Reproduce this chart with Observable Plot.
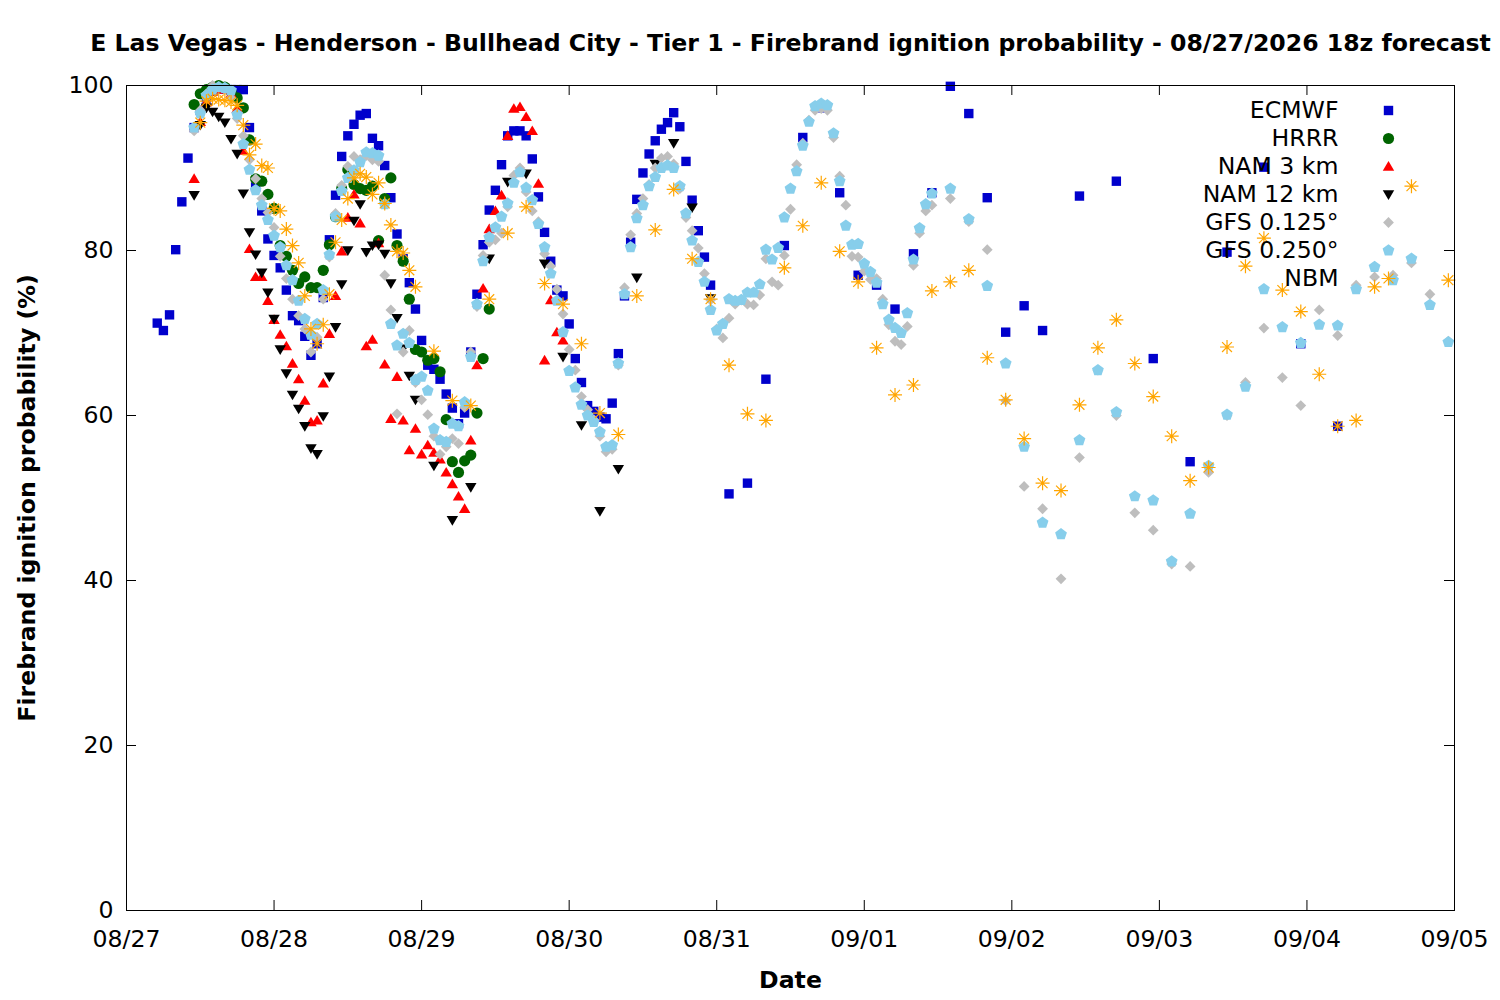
<!DOCTYPE html>
<html><head><meta charset="utf-8">
<script src="https://cdn.jsdelivr.net/npm/d3@7"></script>
<script src="https://cdn.jsdelivr.net/npm/@observablehq/plot@0.6"></script>
<style>html,body{margin:0;padding:0;background:#fff;} svg{display:block;}</style>
</head><body><div id="chart"></div>
<script>
const chartTitle = "E Las Vegas - Henderson - Bullhead City - Tier 1 - Firebrand ignition probability - 08/27/2026 18z forecast";
const xLabel = "Date";
const yLabel = "Firebrand ignition probability (%)";
const xTickLabels = ["08/27","08/28","08/29","08/30","08/31","09/01","09/02","09/03","09/04","09/05"];
const yTicks = [0, 20, 40, 60, 80, 100];
const seriesNames = ["ECMWF","HRRR","NAM 3 km","NAM 12 km","GFS 0.125°","GFS 0.250°","NBM"];

// time grid helper: forecast hours counted from 08/27 00:00
const grid = (start, stop, step) => d3.range(start, stop + 0.001, step);

const ecmwfHours = [...grid(5,95,1), ...grid(98,149,3), ...grid(155,197,6)];
const ecmwfValues = [
 71.2,70.3,72.2,80.1,85.9,91.2,94.9,97.0,98.5,99.3,
 99.6,99.6,99.5,99.5,99.5,94.9,87.7,84.8,81.4,79.4,
 77.9,75.2,72.1,71.5,69.6,67.3,68.7,74.3,81.3,86.7,
 91.4,93.9,95.3,96.4,96.6,93.6,92.7,90.3,86.4,82.0,
 79.0,76.1,72.9,69.1,66.1,65.6,64.4,62.6,60.9,59.0,
 60.3,67.7,74.7,80.7,84.9,87.3,90.4,93.9,94.5,94.5,
 93.9,91.1,86.5,82.2,78.7,75.2,74.5,71.1,66.9,64.0,
 61.2,60.5,59.8,59.6,61.5,67.5,74.5,81.0,86.2,89.4,
 91.7,93.3,94.7,95.5,96.7,95.0,90.8,86.1,82.4,79.2,
 75.8,
 50.5,51.8,64.4,80.6,93.7,97.3,87.0,77.0,75.8,72.9,79.6,87.0,99.9,96.6,86.4,70.1,73.3,70.3,
 86.6,88.4,66.9,54.4,79.8,90.1,68.7,58.7
];

const hrrrHours = grid(11,59,1);
const hrrrValues = [
 97.7,99.0,99.5,99.8,100,99.8,99.3,98.5,97.3,93.4,
 88.7,88.4,86.8,85.1,80.6,79.3,77.6,76.0,76.8,75.5,
 75.5,77.6,80.7,84.1,87.5,89.8,88.0,87.5,87.3,87.8,
 81.2,86.3,88.8,80.6,78.7,74.1,68.0,67.7,66.7,66.9,
 65.3,59.5,54.4,53.1,54.5,55.2,60.3,66.9,72.9
];

const nam3Hours = grid(11,71,1);
const nam3Values = [
 88.7,95.6,98.0,99.3,99.6,99.5,99.0,97.2,92.1,80.2,
 76.8,76.8,73.9,71.6,69.8,68.4,66.3,64.4,61.8,59.2,
 59.4,63.9,69.9,74.5,79.9,84.0,86.8,83.3,68.4,69.2,
 80.9,66.2,59.6,64.7,59.4,55.8,58.4,55.3,56.4,55.5,
 54.7,53.1,51.7,50.2,48.7,57.0,66.1,75.4,82.6,84.8,
 86.7,93.9,97.2,97.4,96.2,94.5,88.1,66.7,74.0,70.1,
 69.1
];

const nam12Hours = [...grid(11,47,1), ...grid(50,95,3)];
const nam12Values = [
 86.7,95.2,97.3,96.8,96.2,95.5,93.5,91.7,86.9,82.2,
 79.5,77.3,74.9,71.7,68.0,65.1,62.5,60.8,58.7,56.0,
 55.3,59.9,64.7,70.7,75.9,80.0,83.6,85.6,79.8,80.6,
 80.7,79.6,76.0,71.8,68.1,64.8,61.9,
 53.9,47.3,51.3,79.0,88.3,89.3,78.4,67.1,58.8,48.4,53.5,76.7,90.5,93.0,85.2,74.2
];

const gfsHours = [...grid(11,131,1), ...grid(134,215,3)];
const gfs0125Values = [
 94.5,97.0,99.0,100,99.8,99.5,98.5,96.0,93.9,91.0,
 88.7,86.3,84.6,82.8,79.3,76.6,74.1,72.1,70.5,67.7,
 69.5,74.1,79.2,84.5,87.9,90.2,91.4,91.0,91.5,91.0,
 90.8,77.0,72.8,60.2,67.7,70.3,64.0,61.9,60.1,57.5,
 55.3,56.2,57.2,56.6,61.0,67.7,73.2,79.4,81.0,81.3,
 82.1,85.3,89.1,90.0,87.1,84.8,83.5,79.6,78.1,75.3,
 72.3,68.0,65.5,62.3,60.7,59.5,57.5,55.6,55.9,66.1,
 75.5,81.9,84.5,86.3,88.0,90.0,91.2,91.4,90.5,87.5,
 84.0,82.4,80.3,77.2,74.0,70.5,69.4,71.8,73.5,74.0,
 73.5,73.4,74.6,79.0,76.2,75.8,79.4,85.0,90.4,93.0,
 95.8,97.0,97.2,97.0,93.7,89.0,85.5,79.3,79.2,77.5,
 76.5,76.6,74.1,71.0,69.0,68.6,70.8,78.2,82.1,84.8,
 85.5,
 86.3,83.5,80.1,61.8,51.4,48.7,40.2,54.9,65.5,60.0,48.2,46.1,42.0,41.7,
 53.1,60.0,64.0,70.6,64.6,61.2,72.8,69.7,75.8,76.8,77.0,78.5,74.7,69.0
];
const gfs0250Values = [
 94.9,96.6,98.8,99.5,99.8,99.7,99.4,96.5,92.9,89.8,
 87.3,85.5,83.7,81.8,80.4,78.2,76.4,73.9,71.7,69.8,
 71.1,75.2,79.5,84.1,87.2,88.8,89.7,90.7,91.9,91.8,
 91.5,85.6,71.1,68.5,69.9,68.8,64.3,64.7,63.0,58.4,
 57.0,56.8,59.0,58.7,61.6,67.1,73.5,78.7,81.6,82.8,
 84.1,85.7,88.2,89.5,87.6,86.1,83.2,80.4,77.2,73.9,
 70.1,65.4,63.4,61.3,60.0,59.2,58.0,56.2,56.4,66.3,
 74.7,80.4,83.9,85.5,87.8,88.9,90.0,90.3,90.0,87.8,
 84.5,81.2,78.6,76.2,72.8,70.3,71.1,74.1,73.9,74.0,
 74.9,74.9,75.9,80.1,78.9,80.3,84.0,87.5,89.6,92.7,
 95.6,97.5,97.8,97.6,94.2,88.4,83.0,80.7,80.8,78.4,
 77.4,76.1,73.5,71.6,70.6,70.0,72.4,78.9,82.7,85.6,
 86.9,
 87.5,83.8,75.7,66.3,56.2,47.0,45.6,57.0,65.5,60.4,50.2,49.7,42.3,48.1,
 53.9,60.1,63.5,75.3,70.7,68.8,71.0,70.9,75.3,78.0,76.4,79.0,73.4,68.9
];

const nbmHours = [...grid(12,47,1), ...grid(50,215,3)];
const nbmValues = [
 95.5,98.1,98.4,98.3,98.2,98.0,97.6,95.2,91.6,92.9,
 90.3,90.0,85.1,84.8,82.6,80.6,78.5,74.5,70.5,68.7,
 71.0,74.7,81.0,83.7,86.3,88.8,89.3,88.9,86.8,88.2,
 85.7,83.1,79.9,79.7,77.6,75.6,
 67.8,61.8,61.2,74.1,82.1,85.3,76.0,73.5,68.7,60.3,
 57.7,74.5,82.5,87.4,79.0,74.1,66.1,60.2,59.4,77.9,
 83.0,88.2,79.9,76.2,68.2,62.5,63.7,75.1,76.2,77.6,
 67.0,61.9,57.2,51.8,50.9,61.3,68.2,71.6,66.3,62.3,
 57.5,52.1,53.7,68.3,78.1,81.5,75.2,72.6,65.0,58.7,
 59.4,75.6,null,87.8,null,76.4
];

// ---- marker shapes (r = half size) ----
const R = s => Math.sqrt(s / Math.PI);
const shapes = {
  square: {draw(c, s) { const r = R(s); c.rect(-r, -r, 2 * r, 2 * r); }},
  circle: {draw(c, s) { const r = R(s); c.moveTo(r, 0); c.arc(0, 0, r, 0, 2 * Math.PI); }},
  triUp: {draw(c, s) { const r = R(s); c.moveTo(0, -r * 1.05); c.lineTo(r * 1.1, r * 0.8); c.lineTo(-r * 1.1, r * 0.8); c.closePath(); }},
  triDown: {draw(c, s) { const r = R(s); c.moveTo(0, r * 1.05); c.lineTo(r * 1.1, -r * 0.8); c.lineTo(-r * 1.1, -r * 0.8); c.closePath(); }},
  diamond: {draw(c, s) { const r = R(s); c.moveTo(0, -r); c.lineTo(r, 0); c.lineTo(0, r); c.lineTo(-r, 0); c.closePath(); }},
  pentagon: {draw(c, s) { const r = R(s); for (let k = 0; k < 5; k++) { const a = -Math.PI / 2 + k * 2 * Math.PI / 5; const px = r * Math.cos(a), py = r * Math.sin(a); k ? c.lineTo(px, py) : c.moveTo(px, py); } c.closePath(); }},
  asterisk: {draw(c, s) { const r = R(s), d = r * Math.SQRT1_2; c.moveTo(-r, 0); c.lineTo(r, 0); c.moveTo(0, -r); c.lineTo(0, r); c.moveTo(-d, -d); c.lineTo(d, d); c.moveTo(-d, d); c.lineTo(d, -d); }}
};

const series = [
  {hours: ecmwfHours, values: ecmwfValues, symbol: shapes.square, r: 4.7, fill: "#0000cc"},
  {hours: hrrrHours, values: hrrrValues, symbol: shapes.circle, r: 5.6, fill: "#006400"},
  {hours: nam3Hours, values: nam3Values, symbol: shapes.triUp, r: 5.2, fill: "#ff0000"},
  {hours: nam12Hours, values: nam12Values, symbol: shapes.triDown, r: 5.2, fill: "#000000"},
  {hours: gfsHours, values: gfs0125Values, symbol: shapes.diamond, r: 5.4, fill: "#bebebe"},
  {hours: gfsHours, values: gfs0250Values, symbol: shapes.pentagon, r: 6.2, fill: "#87ceeb"},
  {hours: nbmHours, values: nbmValues, symbol: shapes.asterisk, r: 7.0, stroke: "#ffa500"}
].map((s, i) => ({...s, name: seriesNames[i]}));

const BASE = Date.UTC(2026, 7, 27);
const toDate = h => new Date(BASE + h * 3600e3);
const parseTick = d3.utcParse("%Y/%m/%d");
const xTicks = xTickLabels.map(l => parseTick("2026/" + l));

const W = 1500, H = 1000, ML = 126, MR = 46, MT = 85, MB = 90;
const plotW = W - ML - MR, plotH = H - MT - MB, tickLen = 10;
const FONT = 23.6;

function rows(s) {
  const n = Math.min(s.hours.length, s.values.length);
  const out = [];
  for (let i = 0; i < n; i++) if (s.values[i] != null) out.push({date: toDate(s.hours[i]), value: s.values[i]});
  return out;
}

const dotMarks = series.map(s => Plot.dot(rows(s), {
  x: "date", y: "value", symbol: s.symbol, r: s.r,
  fill: s.fill ? s.fill : "none", stroke: s.stroke ? s.stroke : "none", strokeWidth: 1.2
}));

const legendMarks = [];
series.forEach((s, i) => {
  legendMarks.push(Plot.text([s.name], {text: d => d, frameAnchor: "top-right", dx: -116, dy: 25 + i * 28,
    textAnchor: "end", lineAnchor: "middle", fontSize: FONT, fill: "black"}));
  legendMarks.push(Plot.dot([s.name], {frameAnchor: "top-right", dx: -66, dy: 25 + i * 28,
    symbol: s.symbol, r: s.r, fill: s.fill ? s.fill : "none", stroke: s.stroke ? s.stroke : "none", strokeWidth: 1.2}));
});

const chart = Plot.plot({
  width: W, height: H,
  marginLeft: ML, marginRight: MR, marginTop: MT, marginBottom: MB,
  style: {fontFamily: "DejaVu Sans", fontSize: FONT + "px", background: "white", overflow: "visible"},
  x: {type: "utc", domain: [xTicks[0], xTicks[xTicks.length - 1]]},
  y: {domain: [0, 100]},
  marks: [
    Plot.axisX({ticks: xTicks, tickFormat: d3.utcFormat("%m/%d"), tickSize: 0, tickPadding: 20, fontSize: FONT, label: null}),
    Plot.axisY({ticks: yTicks, tickSize: 0, tickPadding: 13, fontSize: FONT, label: null}),
    Plot.tickX(xTicks, {x: d => d, insetTop: plotH - tickLen, stroke: "black"}),
    Plot.tickX(xTicks, {x: d => d, insetBottom: plotH - tickLen, stroke: "black"}),
    Plot.tickY(yTicks, {y: d => d, insetRight: plotW - tickLen, stroke: "black"}),
    Plot.tickY(yTicks, {y: d => d, insetLeft: plotW - tickLen, stroke: "black"}),
    ...dotMarks,
    Plot.frame({stroke: "black", strokeWidth: 1}),
    ...legendMarks,
    Plot.text([chartTitle], {text: d => d, frameAnchor: "top", dy: -42, textAnchor: "middle", lineAnchor: "middle", fontWeight: "bold", fontSize: FONT, fill: "black"}),
    Plot.text([xLabel], {text: d => d, frameAnchor: "bottom", dy: 70, textAnchor: "middle", lineAnchor: "middle", fontWeight: "bold", fontSize: FONT, fill: "black"}),
    Plot.text([yLabel], {text: d => d, frameAnchor: "left", dx: -99, rotate: -90, textAnchor: "middle", lineAnchor: "middle", fontWeight: "bold", fontSize: FONT, fill: "black"})
  ]
});
document.getElementById("chart").appendChild(chart);
</script></body></html>
